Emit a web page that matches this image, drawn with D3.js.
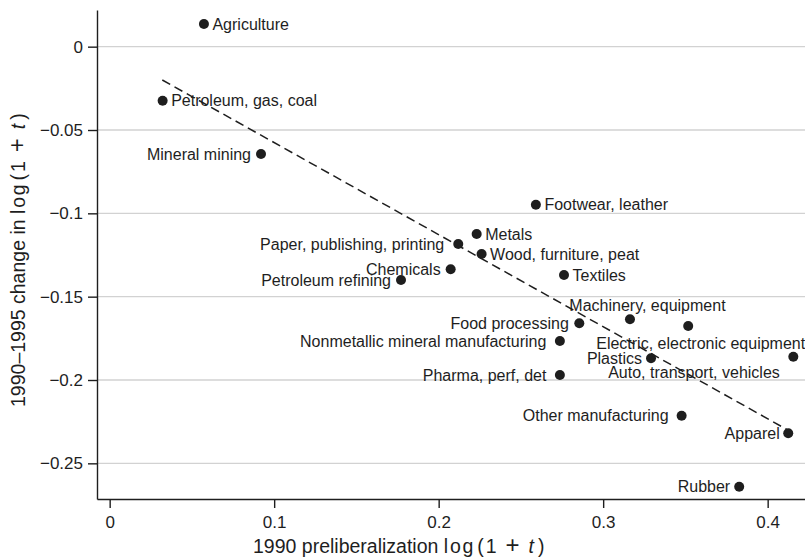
<!DOCTYPE html>
<html>
<head>
<meta charset="utf-8">
<script src="https://cdn.jsdelivr.net/npm/d3@7"></script>
<style>
  body { margin: 0; background: #fff; }
  svg { display: block; font-family: "Liberation Sans", Arial, sans-serif; }
</style>
</head>
<body>
<div id="chart"></div>
<script>
// industries, 1990 tariff log(1+t) and its 1990-1995 change
var industries = ["Agriculture", "Petroleum, gas, coal", "Mineral mining", "Footwear, leather",
  "Metals", "Paper, publishing, printing", "Wood, furniture, peat", "Chemicals", "Textiles",
  "Petroleum refining", "Machinery, equipment", "Food processing", "Electric, electronic equipment",
  "Nonmetallic mineral manufacturing", "Plastics", "Auto, transport, vehicles", "Pharma, perf, det",
  "Other manufacturing", "Apparel", "Rubber"];
var tariff1990 = [0.0573, 0.0322, 0.0920, 0.2591, 0.2231, 0.2119, 0.2261, 0.2073, 0.2762, 0.1771,
  0.3163, 0.2855, 0.3517, 0.2737, 0.3291, 0.4156, 0.2737, 0.3477, 0.4125, 0.3827];
var tariffChange = [0.0136, -0.0324, -0.0644, -0.0948, -0.1124, -0.1184, -0.1244, -0.1336, -0.1370, -0.1400,
  -0.1636, -0.1660, -0.1676, -0.1766, -0.1870, -0.1860, -0.1970, -0.2214, -0.2320, -0.2640];

// label placement around each dot (like stata mlabvpos, hand tweaked)
var labelAnchor = ["start", "start", "end", "start", "start", "end", "start", "end", "start", "end",
  "middle", "end", "start", "end", "end", "end", "end", "end", "end", "end"];
var labelDx = [8.5, 8.5, -10, 8.5, 8.5, -14, 8.5, -10, 8.5, -10,
  17.5, -10.5, -92, -13.5, -9, -13.5, -13.5, -13, -8.5, -9];
var labelDy = [5.5, 5.5, 5.5, 5.5, 5.5, 5.5, 5.5, 5.5, 5.5, 5.5,
  -8.6, 5.5, 23.3, 5.5, 5.5, 21.6, 5.5, 5.5, 5.5, 5.5];

var xTicks = [0, 0.1, 0.2, 0.3, 0.4];
var xTickLabels = ["0", "0.1", "0.2", "0.3", "0.4"];
var yTicks = [0, -0.05, -0.1, -0.15, -0.2, -0.25];
var yTickLabels = ["0", "\u22120.05", "\u22120.1", "\u22120.15", "\u22120.2", "\u22120.25"];

// dashed fitted line, end points
var fitX = [0.0320, 0.4115];
var fitY = [-0.0200, -0.2296];

var W = 805, H = 558;
var plotL = 97, plotR = 805, plotT = 10, plotB = 499;
var ink = "#1e1e1e";

var svg = d3.select("#chart").append("svg")
  .attr("width", W)
  .attr("height", H);

var x = d3.scaleLinear().domain([-0.0077, 0.4227]).range([plotL, plotR]);
var y = d3.scaleLinear().domain([-0.2714, 0.0220]).range([plotB, plotT]);

// grid
svg.append("g").selectAll("line")
  .data(yTicks)
  .enter().append("line")
  .attr("x1", plotL).attr("x2", plotR)
  .attr("y1", d => y(d)).attr("y2", d => y(d))
  .attr("stroke", "#d2d2d2")
  .attr("stroke-width", 1.3);

var yAxis = svg.append("g")
  .attr("transform", "translate(" + plotL + ",0)")
  .call(d3.axisLeft(y).tickValues(yTicks).tickFormat((d, i) => yTickLabels[i])
    .tickSize(9).tickSizeOuter(0).tickPadding(5));

var xAxis = svg.append("g")
  .attr("transform", "translate(0," + plotB + ")")
  .call(d3.axisBottom(x).tickValues(xTicks).tickFormat((d, i) => xTickLabels[i])
    .tickSize(9).tickSizeOuter(0).tickPadding(8));

[xAxis, yAxis].forEach(function(a){
  a.selectAll("path, line").attr("stroke", ink).attr("stroke-width", 1.4);
  a.selectAll("text").attr("fill", ink).attr("font-size", 17)
    .attr("font-family", "Liberation Sans, Arial, sans-serif");
});

// fit line
var line = d3.line().x(d => x(d[0])).y(d => y(d[1]));
svg.append("path")
  .datum(fitX.map((v, i) => [v, fitY[i]]))
  .attr("d", line)
  .attr("fill", "none")
  .attr("stroke", ink)
  .attr("stroke-width", 1.5)
  .attr("stroke-dasharray", "9,5");

// dots
svg.append("g").selectAll("circle")
  .data(industries)
  .enter().append("circle")
  .attr("cx", (d, i) => x(tariff1990[i]))
  .attr("cy", (d, i) => y(tariffChange[i]))
  .attr("r", 5)
  .attr("fill", ink);

svg.append("g").selectAll("text")
  .data(industries)
  .enter().append("text")
  .attr("x", (d, i) => x(tariff1990[i]) + labelDx[i])
  .attr("y", (d, i) => y(tariffChange[i]) + labelDy[i])
  .attr("text-anchor", (d, i) => labelAnchor[i])
  .attr("font-size", 16)
  .attr("fill", ink)
  .text(d => d);

// axis titles, with the little math bit
function mathTitle(sel, lead){
  sel.append("tspan").text(lead + " ");
  sel.append("tspan").attr("letter-spacing", 1.8).text("log");
  sel.append("tspan").attr("dx", 2).attr("font-weight", 300).text("(");
  sel.append("tspan").attr("dx", 2).text("1");
  sel.append("tspan").attr("dx", 9).attr("font-size", 24).text("+");
  sel.append("tspan").attr("dx", 9).attr("font-style", "italic").text("t");
  sel.append("tspan").attr("dx", 4).text(")");
}

svg.append("text")
  .attr("x", 253)
  .attr("y", 553)
  .attr("font-size", 19.5)
  .attr("fill", ink)
  .call(mathTitle, "1990 preliberalization");

svg.append("text")
  .attr("transform", "translate(25,407) rotate(-90)")
  .attr("font-size", 19.5)
  .attr("fill", ink)
  .call(mathTitle, "1990\u20131995 change in");
</script>
</body>
</html>
